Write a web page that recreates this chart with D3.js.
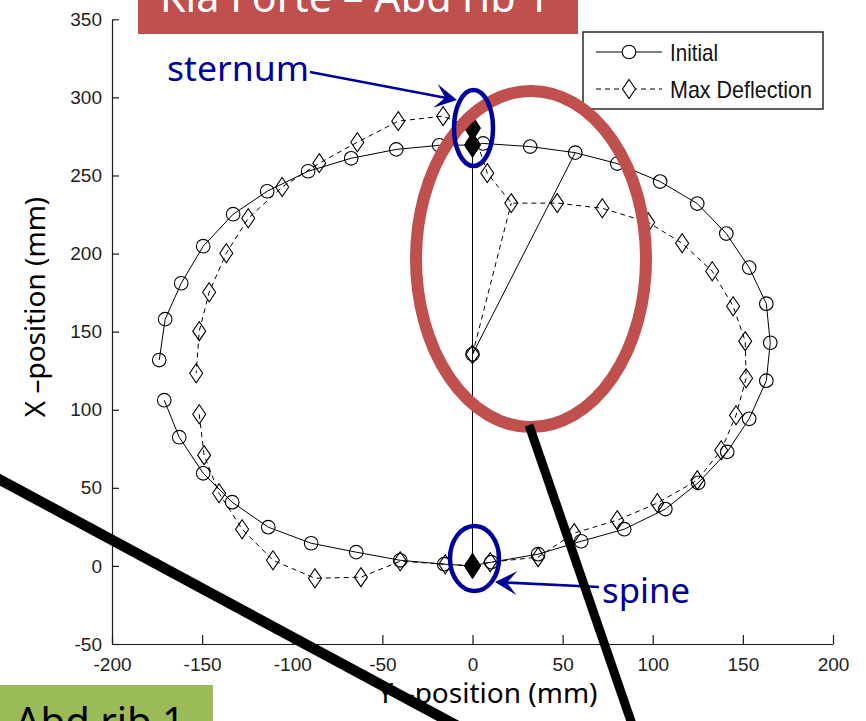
<!DOCTYPE html>
<html>
<head>
<meta charset="utf-8">
<script src="https://cdn.jsdelivr.net/npm/d3@7"></script>
<style>
  html, body { margin: 0; padding: 0; background: #fff; }
  svg { display: block; }
</style>
</head>
<body>
<svg id="chart" width="866" height="721"></svg>
<script>
// ---------------- DATA ----------------
const xTicks = [-200, -150, -100, -50, 0, 50, 100, 150, 200];
const yTicks = [-50, 0, 50, 100, 150, 200, 250, 300, 350];
const seriesNames = ["Initial", "Max Deflection"];

// Initial rib contour (Y-position, X-position), open between last and first point
const initialY = [-171.0, -162.7, -149.4, -133.3, -113.3, -89.5, -64.5, -40.1, -15.7, 0,
  10.4, 36.4, 60.3, 84.2, 107.0, 125.2, 141.3, 153.5, 163.0, 165.2,
  163.0, 153.5, 140.8, 124.7, 104.1, 80.3, 57.0, 32.0, 5.9, 0,
  -18.5, -42.3, -67.3, -91.2, -113.9, -132.8, -149.4, -161.6, -170.5, -173.8];
const initialX = [106.1, 82.4, 59.3, 40.8, 24.8, 14.5, 8.8, 3.6, 1.1, 0,
  2.4, 7.5, 15.8, 23.5, 36.4, 53.2, 73.0, 94.2, 118.6, 142.9,
  167.9, 191.0, 212.8, 232.0, 246.1, 257.6, 264.6, 268.5, 270.5, 269.5,
  269.3, 266.7, 261.0, 252.7, 239.9, 225.2, 204.7, 181.0, 158.0, 131.8];

// Max deflection rib contour
const deflY = [-151.6, -148.9, -140.6, -127.8, -110.7, -87.4, -61.9, -40.1, -15.1, 0,
  9.8, 36.4, 56.4, 80.3, 102.5, 124.7, 138.0, 146.2, 151.8, 151.3,
  144.6, 133.0, 116.3, 97.5, 72.0, 47.0, 21.5, 8.2, 0,
  -16.3, -41.2, -63.9, -85.0, -105.6, -124.4, -136.6, -146.1, -151.6, -153.3];
const deflX = [97.1, 70.9, 46.5, 23.5, 3.6, -7.9, -7.2, 3.0, 1.1, 0,
  2.4, 5.6, 21.0, 29.3, 40.2, 54.9, 74.1, 96.5, 120.2, 143.9,
  166.3, 188.7, 206.6, 220.0, 229.0, 232.3, 232.3, 251.5, 280.3,
  288.0, 284.8, 271.3, 257.9, 242.6, 222.6, 200.2, 175.2, 150.3, 123.4];

// centroid (Y, X) and key point indices
const centroidInitial = [0, 135.5];
const centroidDefl = [0, 135.5];
const initialKeys = { spine: 9, sternum: 29, spoke: 26 };
const deflKeys = { spine: 9, sternum: 28, spoke: 26 };

// ---------------- LAYOUT ----------------
const svg = d3.select("#chart");
const x = d3.scaleLinear().domain([-200, 200]).range([112, 833]);
const y = d3.scaleLinear().domain([-50, 350]).range([644, 19.3]);
const tickFont = '"Liberation Sans", Arial, Helvetica, sans-serif';
const slideFont = '"Noto Sans", "Open Sans", sans-serif';

const initPts = initialY.map((v, i) => [v, initialX[i]]);
const deflPts = deflY.map((v, i) => [v, deflX[i]]);

// ---------------- AXES ----------------
const gx = svg.append("g").attr("transform", `translate(0,${y(-50)})`)
  .call(d3.axisBottom(x).tickValues(xTicks).tickSizeInner(-9).tickSizeOuter(0).tickPadding(14)
    .tickFormat(d3.format("d")));
const gy = svg.append("g").attr("transform", `translate(${x(-200)},0)`)
  .call(d3.axisLeft(y).tickValues(yTicks).tickSizeInner(-7).tickSizeOuter(0).tickPadding(10)
    .tickFormat(d3.format("d")));
[gx, gy].forEach(g => {
  g.selectAll("path.domain").attr("stroke", "#1a1a1a").attr("stroke-width", 1.2);
  g.selectAll(".tick line").attr("stroke", "#1a1a1a").attr("stroke-width", 1.2);
  g.selectAll(".tick text").attr("fill", "#222").style("font-family", tickFont).style("font-size", "19px")
    .text(d => String(d).replace("−", "-"));
});

// ---------------- SERIES ----------------
const line = d3.line().x(d => x(d[0])).y(d => y(d[1]));
const plot = svg.append("g");

function drawSeries(pts, centroid, keys, dash) {
  const g = plot.append("g").attr("fill", "none").attr("stroke", "#000").attr("stroke-width", 1);
  if (dash) g.attr("stroke-dasharray", dash);
  g.append("path").attr("d", line(pts));
  g.append("path").attr("d", line([pts[keys.spine], centroid, pts[keys.sternum]]));
  g.append("path").attr("d", line([centroid, pts[keys.spoke]]));
}
drawSeries(initPts, centroidInitial, initialKeys, null);
drawSeries(deflPts, centroidDefl, deflKeys, "5,4");

const diamond = (cx, cy, hw, hh) => `M${cx},${cy - hh}L${cx + hw},${cy}L${cx},${cy + hh}L${cx - hw},${cy}Z`;

const mk = plot.append("g");
mk.selectAll("circle.init").data(initPts.concat([centroidInitial])).join("circle")
  .attr("class", "init").attr("cx", d => x(d[0])).attr("cy", d => y(d[1])).attr("r", 6.8)
  .attr("fill", "none").attr("stroke", "#000").attr("stroke-width", 1.1);
mk.selectAll("path.defl").data(deflPts.concat([centroidDefl])).join("path")
  .attr("class", "defl").attr("d", d => diamond(x(d[0]), y(d[1]), 6.5, 9.5))
  .attr("fill", "none").attr("stroke", "#000").attr("stroke-width", 1.1);

// filled markers at spine and sternum
const filled = [initPts[initialKeys.spine], initPts[initialKeys.sternum], deflPts[deflKeys.spine], deflPts[deflKeys.sternum]];
mk.selectAll("path.fill").data(filled).join("path")
  .attr("class", "fill").attr("d", d => diamond(x(d[0]), y(d[1]), 8, 12.5))
  .attr("fill", "#000").attr("stroke", "#000").attr("stroke-width", 1);

// ---------------- LEGEND ----------------
const leg = svg.append("g");
leg.append("rect").attr("x", 583).attr("y", 32).attr("width", 240).attr("height", 77)
  .attr("fill", "#fff").attr("stroke", "#2a2a2a").attr("stroke-width", 1.5);
const legRows = [{ name: seriesNames[0], yy: 52, dash: null, w: 48 }, { name: seriesNames[1], yy: 89, dash: "5,4", w: 142 }];
legRows.forEach((r, i) => {
  const l = leg.append("line").attr("x1", 596).attr("x2", 662).attr("y1", r.yy).attr("y2", r.yy)
    .attr("stroke", "#000").attr("stroke-width", 1);
  if (r.dash) l.attr("stroke-dasharray", r.dash);
  if (i === 0) leg.append("circle").attr("cx", 629).attr("cy", r.yy).attr("r", 6.8)
    .attr("fill", "#fff").attr("stroke", "#000").attr("stroke-width", 1.1);
  else leg.append("path").attr("d", diamond(629, r.yy, 6.5, 9.5))
    .attr("fill", "#fff").attr("stroke", "#000").attr("stroke-width", 1.1);
  leg.append("text").attr("x", 670).attr("y", r.yy + 8.5).text(r.name)
    .attr("textLength", r.w).attr("lengthAdjust", "spacingAndGlyphs")
    .style("font-family", '"Liberation Sans Narrow", "Liberation Sans", Arial, sans-serif')
    .style("font-size", "24px").attr("fill", "#111");
});

// ---------------- AXIS LABELS ----------------
svg.append("text").attr("transform", "translate(45,307) rotate(-90)").attr("text-anchor", "middle")
  .style("font-family", slideFont).style("font-size", "28px").attr("fill", "#000")
  .text("X –position (mm)");
svg.append("text").attr("x", 487.5).attr("y", 703).attr("text-anchor", "middle")
  .style("font-family", slideFont).style("font-size", "28px").attr("fill", "#000")
  .text("Y –position (mm)");

// ---------------- SLIDE ANNOTATIONS ----------------
const ann = svg.append("g");
const blue = "#00009c";
// banners
ann.append("rect").attr("x", 138).attr("y", -10).attr("width", 440).attr("height", 44).attr("fill", "#c0504d");
ann.append("text").attr("x", 160).attr("y", 12).text("Kia Forte – Abd rib 1")
  .attr("textLength", 390).attr("lengthAdjust", "spacingAndGlyphs")
  .style("font-family", slideFont).style("font-size", "41px").attr("fill", "#fff");
ann.append("rect").attr("x", 0).attr("y", 685).attr("width", 213).attr("height", 40).attr("fill", "#9bbb59");
ann.append("text").attr("x", 15).attr("y", 736).text("Abd rib 1")
  .style("font-family", slideFont).style("font-size", "40px").attr("fill", "#000");

// red ellipse
ann.append("ellipse").attr("cx", 531).attr("cy", 259).attr("rx", 115).attr("ry", 168)
  .attr("fill", "none").attr("stroke", "#c0504d").attr("stroke-width", 12);

// blue ellipses
ann.append("ellipse").attr("cx", 473.5).attr("cy", 128).attr("rx", 19.5).attr("ry", 38)
  .attr("fill", "none").attr("stroke", blue).attr("stroke-width", 4.5);
ann.append("ellipse").attr("cx", 474.5).attr("cy", 558.5).attr("rx", 24.5).attr("ry", 32.5)
  .attr("fill", "none").attr("stroke", blue).attr("stroke-width", 4.5);

// labels
ann.append("text").attr("x", 167).attr("y", 81).text("sternum").attr("textLength", 142)
  .attr("lengthAdjust", "spacingAndGlyphs")
  .style("font-family", slideFont).style("font-size", "35px").attr("fill", blue);
ann.append("text").attr("x", 602).attr("y", 603).text("spine").attr("textLength", 88)
  .attr("lengthAdjust", "spacingAndGlyphs")
  .style("font-family", slideFont).style("font-size", "35px").attr("fill", blue);

// arrows
function arrow(x0, y0, x1, y1) {
  const dx = x1 - x0, dy = y1 - y0, L = Math.hypot(dx, dy), ux = dx / L, uy = dy / L;
  const px = -uy, py = ux;
  const nx = x1 - ux * 12, ny = y1 - uy * 12;
  const bx = x1 - ux * 22, by = y1 - uy * 22;
  ann.append("line").attr("x1", x0).attr("y1", y0).attr("x2", nx).attr("y2", ny)
    .attr("stroke", blue).attr("stroke-width", 2.5);
  ann.append("path").attr("d", `M${x1},${y1}L${bx + px * 12},${by + py * 12}L${nx},${ny}L${bx - px * 12},${by - py * 12}Z`)
    .attr("fill", blue);
}
arrow(310, 72, 457, 100);
arrow(599, 587, 495, 582);

// thick black callout lines
ann.append("line").attr("x1", -5).attr("y1", 477).attr("x2", 465).attr("y2", 730)
  .attr("stroke", "#000").attr("stroke-width", 10.5);
ann.append("line").attr("x1", 529).attr("y1", 425).attr("x2", 634).attr("y2", 730)
  .attr("stroke", "#000").attr("stroke-width", 9);
</script>
</body>
</html>
